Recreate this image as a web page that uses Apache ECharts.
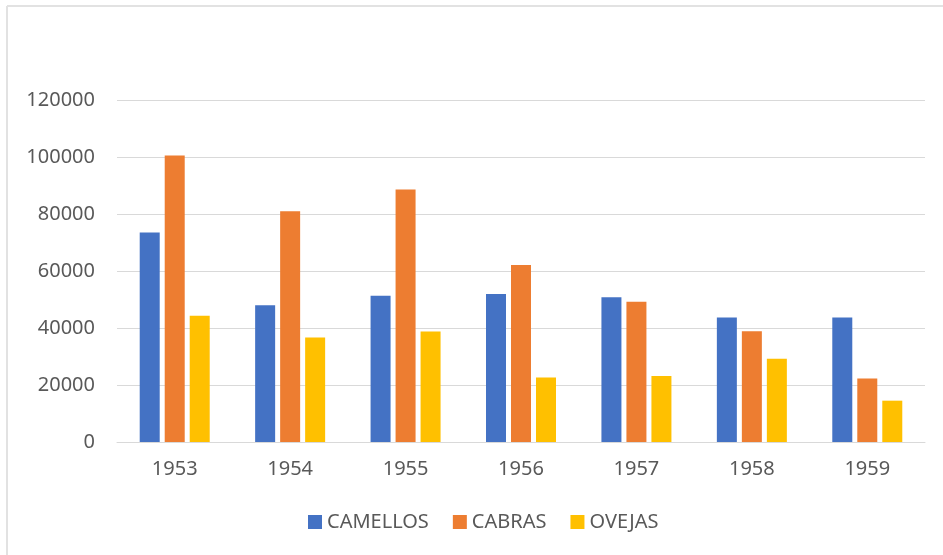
<!DOCTYPE html>
<html>
<head>
<meta charset="utf-8">
<script src="https://cdn.jsdelivr.net/npm/echarts@6/dist/echarts.min.js"></script>
<style>
html,body{margin:0;padding:0;background:#fff;}
#c{width:943px;height:555px;}
</style>
</head>
<body>
<div id="c"></div>
<script>
const categories = ['1953','1954','1955','1956','1957','1958','1959'];
const camellos = [73500, 48000, 51300, 51900, 50800, 43700, 43700];
const cabras   = [100500, 81000, 88600, 62100, 49200, 38900, 22300];
const ovejas   = [44300, 36700, 38800, 22600, 23200, 29200, 14500];
const seriesNames = ['CAMELLOS','CABRAS','OVEJAS'];
const yTicks = {min: 0, max: 120000, interval: 20000};

const FONT = 'Noto Sans';
const chart = echarts.init(document.getElementById('c'), null, {renderer: 'canvas'});
const mk = (name, data, color) => ({
  name, type: 'bar', data, barWidth: 20, barGap: '25%',
  itemStyle: {color}
});
chart.setOption({
  animation: false,
  backgroundColor: '#ffffff',
  textStyle: {fontFamily: FONT},
  graphic: [
    {type: 'line', shape: {x1: 7, y1: 6, x2: 943, y2: 6}, style: {stroke: '#e2e2e2', lineWidth: 2}},
    {type: 'line', shape: {x1: 7, y1: 6, x2: 7, y2: 555}, style: {stroke: '#e2e2e2', lineWidth: 2}}
  ],
  grid: {left: 117, right: 18, top: 100, bottom: 113, containLabel: false},
  legend: {
    left: 303, top: 507, itemWidth: 14, itemHeight: 14, itemGap: 24,
    icon: 'rect',
    textStyle: {color: '#595959', fontSize: 20, fontFamily: FONT},
    data: seriesNames
  },
  xAxis: {
    type: 'category', data: categories,
    axisLine: {lineStyle: {color: '#d9d9d9', width: 1}},
    axisTick: {show: false},
    axisLabel: {color: '#595959', fontSize: 20, margin: 17, fontFamily: FONT}
  },
  yAxis: {
    type: 'value', min: yTicks.min, max: yTicks.max, interval: yTicks.interval,
    axisLine: {show: false}, axisTick: {show: false},
    splitLine: {lineStyle: {color: '#d9d9d9', width: 1}},
    axisLabel: {color: '#595959', fontSize: 20, margin: 22, fontFamily: FONT,
      formatter: v => String(v)}
  },
  series: [
    mk(seriesNames[0], camellos, '#4472C4'),
    mk(seriesNames[1], cabras, '#ED7D31'),
    mk(seriesNames[2], ovejas, '#FFC000')
  ]
});
</script>
</body>
</html>
